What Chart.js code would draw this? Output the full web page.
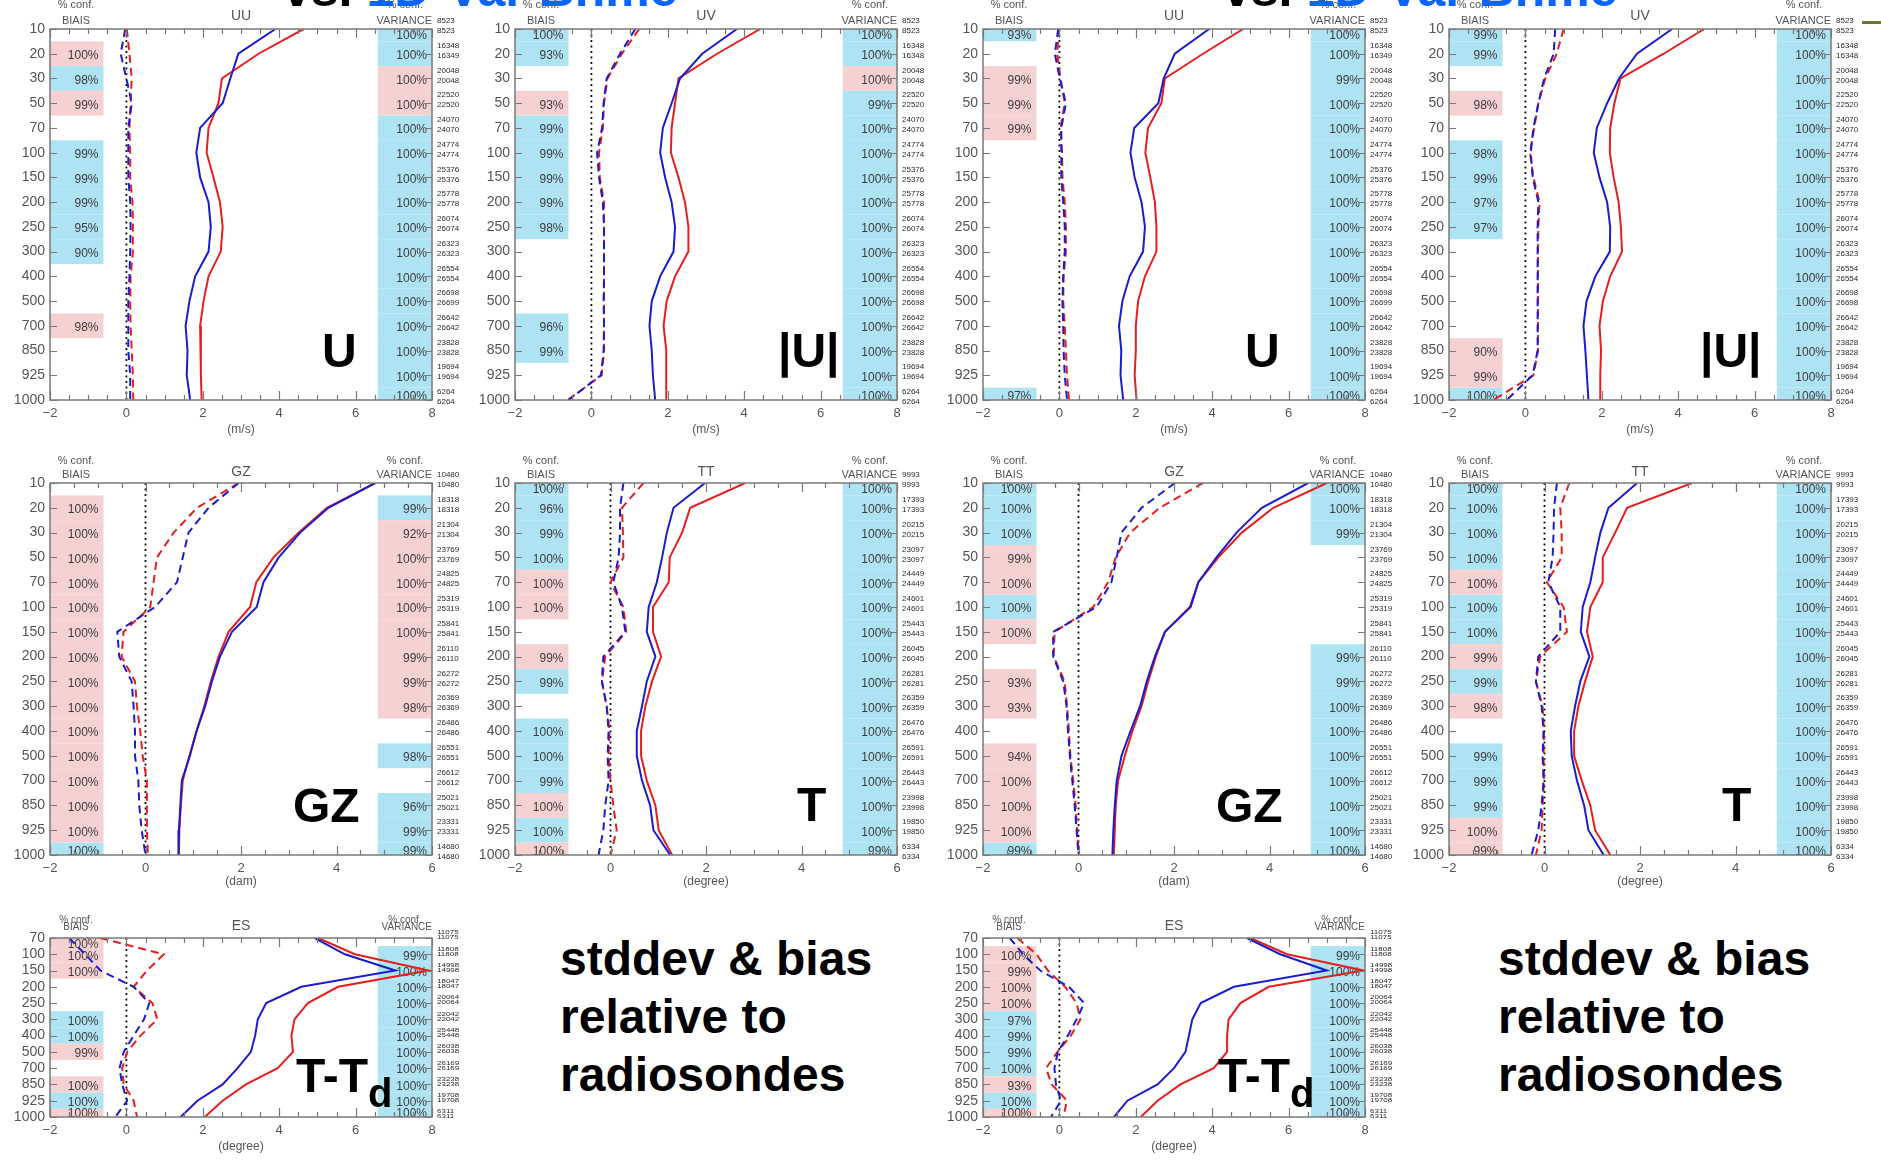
<!DOCTYPE html>
<html>
<head>
<meta charset="utf-8">
<script src="https://cdn.jsdelivr.net/npm/chart.js@4.4.1/dist/chart.umd.min.js"></script>
<style>
html,body{margin:0;padding:0;background:#fff;overflow:hidden;}
#page{position:relative;width:1881px;height:1160px;overflow:hidden;background:#fff;font-family:"Liberation Sans",Arial,sans-serif;}
#page canvas{position:absolute;}
.big{position:absolute;font-weight:bold;font-size:48px;line-height:48px;color:#000;white-space:nowrap;}
.big sub{font-size:40px;vertical-align:baseline;position:relative;top:15px;}
.note{position:absolute;font-weight:bold;font-size:48px;line-height:58px;color:#000;white-space:nowrap;}
.head{position:absolute;font-weight:bold;font-size:50px;line-height:50px;white-space:nowrap;}
.head .b{color:#0a64ff;}
.olive{position:absolute;background:#6b7a2a;}
</style>
</head>
<body>
<div id="page"></div>
<script>
// ---------------- DATA ----------------
const levels16 = ['10','20','30','50','70','100','150','200','250','300','400','500','700','850','925','1000'];
const levels12 = ['70','100','150','200','250','300','400','500','700','850','925','1000'];

// Wind component (UU) - left pair
const uuA_stdBlue  = [3.90, 2.93, 2.72, 2.52, 1.93, 1.83, 1.93, 2.15, 2.21, 2.15, 1.80, 1.65, 1.55, 1.60, 1.58, 1.67];
const uuA_stdRed   = [4.64, 3.46, 2.50, 2.41, 2.15, 2.10, 2.28, 2.45, 2.52, 2.47, 2.15, 2.02, 1.93, 1.95, 1.95, 1.97];
const uuA_biasBlue = [-0.03, -0.15, 0.00, 0.14, 0.05, 0.05, 0.05, 0.10, 0.11, 0.10, 0.08, 0.05, 0.05, 0.05, 0.10, 0.10];
const uuA_biasRed  = [0.01, 0.08, 0.14, 0.11, 0.08, 0.10, 0.10, 0.16, 0.17, 0.17, 0.11, 0.10, 0.11, 0.14, 0.17, 0.18];
const uuA_biasConf = ['', 'p100', 'b98', 'p99', '', 'b99', 'b99', 'b99', 'b95', 'b90', '', '', 'p98', '', '', ''];
const uuA_varConf  = ['b100','b100','p100','p100','b100','b100','b100','b100','b100','b100','b100','b100','b100','b100','b100','b100'];

// Wind speed (UV) - left pair
const uvA_stdBlue  = [3.81, 2.90, 2.32, 2.10, 1.87, 1.80, 1.93, 2.10, 2.19, 2.15, 1.80, 1.58, 1.52, 1.58, 1.61, 1.67];
const uvA_stdRed   = [4.42, 3.29, 2.28, 2.19, 2.10, 2.08, 2.28, 2.45, 2.54, 2.54, 2.19, 1.97, 1.89, 1.96, 1.96, 1.96];
const uvA_biasBlue = [1.15, 0.75, 0.40, 0.32, 0.28, 0.15, 0.20, 0.30, 0.33, 0.33, 0.33, 0.32, 0.33, 0.32, 0.25, -0.60];
const uvA_biasRed  = [1.25, 0.80, 0.42, 0.33, 0.30, 0.20, 0.22, 0.33, 0.33, 0.33, 0.33, 0.33, 0.33, 0.33, 0.27, -0.62];
const uvA_biasConf = ['b100','b93','','p93','b99','b99','b99','b99','b98','','','','b96','b99','',''];
const uvA_varConf  = ['b100','b100','p100','b99','b100','b100','b100','b100','b100','b100','b100','b100','b100','b100','b100','b100'];

// Wind component (UU) - right pair
const uuB_stdBlue  = [3.92, 3.02, 2.73, 2.59, 1.96, 1.86, 1.97, 2.15, 2.24, 2.19, 1.84, 1.65, 1.56, 1.62, 1.60, 1.67];
const uuB_stdRed   = [4.81, 3.76, 2.76, 2.67, 2.32, 2.25, 2.38, 2.50, 2.54, 2.54, 2.24, 2.06, 2.00, 2.00, 1.97, 2.02];
const uuB_biasBlue = [-0.03, -0.12, 0.01, 0.17, 0.05, 0.05, 0.05, 0.10, 0.14, 0.14, 0.10, 0.08, 0.10, 0.11, 0.14, 0.20];
const uuB_biasRed  = [-0.01, -0.06, 0.03, 0.14, 0.03, 0.07, 0.08, 0.14, 0.17, 0.17, 0.11, 0.10, 0.14, 0.17, 0.20, 0.25];
const uuB_biasConf = ['b93','','p99','p99','p99','','','','','','','','','','','b97'];
const uuB_varConf  = ['b100','b100','b99','b100','b100','b100','b100','b100','b100','b100','b100','b100','b100','b100','b100','b100'];

// Wind speed (UV) - right pair
const uvB_stdBlue  = [3.84, 2.92, 2.45, 2.14, 1.87, 1.79, 1.94, 2.14, 2.22, 2.21, 1.83, 1.60, 1.52, 1.57, 1.61, 1.65];
const uvB_stdRed   = [4.68, 3.62, 2.49, 2.33, 2.22, 2.21, 2.31, 2.44, 2.50, 2.53, 2.22, 2.03, 1.94, 1.98, 1.96, 1.96];
const uvB_biasBlue = [0.78, 0.74, 0.49, 0.34, 0.21, 0.14, 0.19, 0.34, 0.32, 0.32, 0.32, 0.32, 0.32, 0.32, 0.19, -0.49];
const uvB_biasRed  = [1.00, 0.82, 0.52, 0.34, 0.23, 0.12, 0.21, 0.37, 0.34, 0.33, 0.33, 0.33, 0.33, 0.33, 0.21, -0.84];
const uvB_biasConf = ['b99','b99','','p98','','b98','b99','b97','b97','','','','','p90','p99','b100'];
const uvB_varConf  = ['b100','b100','b100','b100','b100','b100','b100','b100','b100','b100','b100','b100','b100','b100','b100','b100'];

// Geopotential height (GZ) - left pair
const gzA_stdBlue  = [4.81, 3.83, 3.24, 2.79, 2.47, 2.33, 1.81, 1.56, 1.39, 1.25, 1.07, 0.93, 0.76, 0.73, 0.70, 0.69];
const gzA_stdRed   = [4.81, 3.80, 3.21, 2.68, 2.32, 2.19, 1.74, 1.53, 1.37, 1.23, 1.07, 0.92, 0.78, 0.74, 0.71, 0.70];
const gzA_biasBlue = [1.95, 1.32, 0.90, 0.78, 0.66, 0.20, -0.59, -0.55, -0.29, -0.25, -0.22, -0.22, -0.15, -0.13, -0.08, 0.00];
const gzA_biasRed  = [1.95, 1.08, 0.59, 0.24, 0.17, 0.10, -0.46, -0.50, -0.22, -0.18, -0.11, -0.06, 0.03, 0.03, 0.03, 0.05];
const gzA_biasConf = ['','p100','p100','p100','p100','p100','p100','p100','p100','p100','p100','p100','p100','p100','p100','b100'];
const gzA_varConf  = ['','b99','p92','p100','p100','p100','p100','p99','p99','p98','','b98','','b96','b99','b99'];

// Temperature (TT) - left pair
const ttA_stdBlue  = [1.98, 1.32, 1.18, 1.08, 0.97, 0.80, 0.76, 0.94, 0.76, 0.66, 0.55, 0.55, 0.66, 0.83, 0.90, 1.25];
const ttA_stdRed   = [2.82, 1.67, 1.50, 1.24, 1.22, 0.89, 0.89, 1.06, 0.87, 0.73, 0.64, 0.64, 0.76, 0.94, 1.01, 1.29];
const ttA_biasBlue = [0.27, 0.20, 0.20, 0.17, 0.06, 0.24, 0.31, -0.15, -0.18, -0.08, -0.04, -0.06, -0.04, -0.11, -0.15, -0.25];
const ttA_biasRed  = [0.69, 0.24, 0.26, 0.27, 0.00, 0.27, 0.33, -0.11, -0.18, -0.08, -0.02, -0.04, 0.00, 0.06, 0.13, 0.00];
const ttA_biasConf = ['b100','b96','b99','b100','p100','p100','','p99','b99','','b100','b100','b99','p100','b100','p100'];
const ttA_varConf  = ['b100','b100','b100','b100','b100','b100','b100','b100','b100','b100','b100','b100','b100','b100','b100','b99'];

// Geopotential height (GZ) - right pair
const gzB_stdBlue  = [4.81, 3.84, 3.31, 2.89, 2.51, 2.35, 1.81, 1.60, 1.43, 1.29, 1.09, 0.90, 0.80, 0.76, 0.73, 0.71];
const gzB_stdRed   = [5.20, 4.08, 3.42, 2.93, 2.51, 2.33, 1.81, 1.62, 1.46, 1.32, 1.13, 0.97, 0.83, 0.78, 0.76, 0.74];
const gzB_biasBlue = [2.02, 1.32, 0.90, 0.80, 0.69, 0.38, -0.53, -0.53, -0.32, -0.25, -0.22, -0.18, -0.13, -0.08, -0.04, 0.00];
const gzB_biasRed  = [2.61, 1.70, 1.08, 0.78, 0.62, 0.31, -0.50, -0.52, -0.29, -0.24, -0.20, -0.17, -0.11, -0.06, -0.03, 0.01];
const gzB_biasConf = ['b100','b100','b100','p99','p100','b100','p100','','p93','p93','','p94','p100','p100','p100','b99'];
const gzB_varConf  = ['b100','b100','b99','','','','','b99','b99','b100','b100','b100','b100','b100','b100','b100'];

// Temperature (TT) - right pair
const ttB_stdBlue  = [1.94, 1.34, 1.17, 1.06, 0.96, 0.80, 0.76, 0.94, 0.75, 0.64, 0.55, 0.57, 0.68, 0.83, 0.92, 1.24];
const ttB_stdRed   = [3.09, 1.73, 1.48, 1.22, 1.22, 0.96, 0.89, 1.01, 0.85, 0.71, 0.62, 0.62, 0.78, 0.96, 1.06, 1.38];
const ttB_biasBlue = [0.26, 0.20, 0.19, 0.17, 0.08, 0.33, 0.33, -0.13, -0.18, -0.06, -0.02, -0.04, -0.02, -0.06, -0.13, -0.27];
const ttB_biasRed  = [0.52, 0.33, 0.36, 0.36, 0.05, 0.40, 0.47, -0.09, -0.18, -0.04, -0.01, -0.02, -0.01, -0.04, -0.06, -0.18];
const ttB_biasConf = ['b100','b100','b100','b100','p100','b100','b100','p99','b99','p98','','b99','b99','b99','p100','p99'];
const ttB_varConf  = ['b100','b100','b100','b100','b100','b100','b100','b100','b100','b100','b100','b100','b100','b100','b100','b100'];

// Dew-point depression (ES) - left pair
const esA_stdBlue  = [4.93, 5.72, 7.04, 4.58, 3.66, 3.44, 3.37, 3.26, 2.91, 2.52, 1.86, 1.42];
const esA_stdRed   = [5.02, 5.98, 7.91, 5.54, 4.75, 4.40, 4.32, 4.36, 3.96, 3.13, 2.52, 2.05];
const esA_biasBlue = [-1.50, -1.08, -0.68, 0.19, 0.60, 0.46, 0.19, -0.07, -0.18, -0.11, 0.02, -0.29];
const esA_biasRed  = [-0.68, 0.98, 0.54, 0.19, 0.68, 0.81, 0.37, 0.02, -0.11, -0.07, 0.19, 0.28];
const esA_biasConf = ['p100','p100','p100','','','b100','b100','p99','','p100','b100','p100'];
const esA_varConf  = ['','b99','b100','b100','b100','b100','b100','b100','b100','b100','b100','b100'];

// Dew-point depression (ES) - right pair
const esB_stdBlue  = [4.91, 5.78, 7.00, 4.57, 3.70, 3.48, 3.39, 3.30, 3.00, 2.57, 1.78, 1.43];
const esB_stdRed   = [5.00, 5.96, 7.96, 5.48, 4.74, 4.43, 4.39, 4.39, 4.04, 3.17, 2.57, 2.13];
const esB_biasBlue = [-1.30, -0.95, -0.50, 0.25, 0.65, 0.45, 0.22, -0.04, -0.13, -0.09, 0.04, -0.22];
const esB_biasRed  = [-1.10, -0.60, -0.30, 0.15, 0.45, 0.55, 0.30, -0.05, -0.35, -0.20, 0.20, 0.10];
const esB_biasConf = ['','p100','p99','p100','p100','b97','b99','b99','b100','p93','b100','p100'];
const esB_varConf  = ['','b99','b100','b100','b100','b100','b100','b100','b100','b100','b100','b100'];

// Number of observations per level (two experiments)
const countsWindA = [8523,16348,20048,22520,24070,24774,25376,25778,26074,26323,26554,26698,26642,23828,19694,6264];
const countsWindB = [8523,16349,20048,22520,24070,24774,25376,25778,26074,26323,26554,26699,26642,23828,19694,6264];
const countsGZ    = [10480,18318,21304,23769,24825,25319,25841,26110,26272,26369,26486,26551,26612,25021,23331,14680];
const countsTT    = [9993,17393,20215,23097,24449,24601,25443,26045,26281,26359,26476,26591,26443,23998,19850,6334];
const countsES    = [11075,11808,14998,18047,20064,22042,25448,26038,26169,23238,19708,6311];

// ---------------- STYLE / LAYOUT ----------------
const FONT = '"Liberation Sans", Arial, sans-serif';
const BLUE = '#1c1ccf', RED = '#e61e1e';
const CELL_BLUE = '#aee3f3', CELL_PINK = '#f6d1d1';
const TXT = '#555555', PCT = '#3c3c3c', AXIS = '#7a7a7a';
const BIAS_FRAC = 0.14, VAR_FRAC = 0.142;
const AXIS_W = 382, PAD_L = 50, PAD_R = 50, PAD_T = 35, PAD_B = 45;
const COL_LEFT = [50, 515, 983, 1449];
const ROWS = [
  {top: 29,  h: 371, conf: -24,   label: -8.5, title: -12.5, hdrSize: 11, unitOff: 30,   cTop: -8, cBot: 2, cScale: 1},
  {top: 483, h: 372, conf: -22.5, label: -8.5, title: -11,   hdrSize: 11, unitOff: 26.7, cTop: -8, cBot: 2, cScale: 1},
  {top: 938, h: 179, conf: -18,   label: -11,  title: -12,   hdrSize: 10, unitOff: 30,   cTop: -5, cBot: 0, cScale: 0.62}
];

const panels = [
  {row:0, col:0, title:'UU', unit:'(m/s)', xMin:-2, xMax:8, levels:levels16, stdBlue:uuA_stdBlue, stdRed:uuA_stdRed, biasBlue:uuA_biasBlue, biasRed:uuA_biasRed, biasConf:uuA_biasConf, varConf:uuA_varConf, cA:countsWindA, cB:countsWindB},
  {row:0, col:1, title:'UV', unit:'(m/s)', xMin:-2, xMax:8, levels:levels16, stdBlue:uvA_stdBlue, stdRed:uvA_stdRed, biasBlue:uvA_biasBlue, biasRed:uvA_biasRed, biasConf:uvA_biasConf, varConf:uvA_varConf, cA:countsWindA, cB:countsWindA},
  {row:0, col:2, title:'UU', unit:'(m/s)', xMin:-2, xMax:8, levels:levels16, stdBlue:uuB_stdBlue, stdRed:uuB_stdRed, biasBlue:uuB_biasBlue, biasRed:uuB_biasRed, biasConf:uuB_biasConf, varConf:uuB_varConf, cA:countsWindA, cB:countsWindB},
  {row:0, col:3, title:'UV', unit:'(m/s)', xMin:-2, xMax:8, levels:levels16, stdBlue:uvB_stdBlue, stdRed:uvB_stdRed, biasBlue:uvB_biasBlue, biasRed:uvB_biasRed, biasConf:uvB_biasConf, varConf:uvB_varConf, cA:countsWindA, cB:countsWindA},
  {row:1, col:0, title:'GZ', unit:'(dam)', xMin:-2, xMax:6, levels:levels16, stdBlue:gzA_stdBlue, stdRed:gzA_stdRed, biasBlue:gzA_biasBlue, biasRed:gzA_biasRed, biasConf:gzA_biasConf, varConf:gzA_varConf, cA:countsGZ, cB:countsGZ},
  {row:1, col:1, title:'TT', unit:'(degree)', xMin:-2, xMax:6, levels:levels16, stdBlue:ttA_stdBlue, stdRed:ttA_stdRed, biasBlue:ttA_biasBlue, biasRed:ttA_biasRed, biasConf:ttA_biasConf, varConf:ttA_varConf, cA:countsTT, cB:countsTT},
  {row:1, col:2, title:'GZ', unit:'(dam)', xMin:-2, xMax:6, levels:levels16, stdBlue:gzB_stdBlue, stdRed:gzB_stdRed, biasBlue:gzB_biasBlue, biasRed:gzB_biasRed, biasConf:gzB_biasConf, varConf:gzB_varConf, cA:countsGZ, cB:countsGZ},
  {row:1, col:3, title:'TT', unit:'(degree)', xMin:-2, xMax:6, levels:levels16, stdBlue:ttB_stdBlue, stdRed:ttB_stdRed, biasBlue:ttB_biasBlue, biasRed:ttB_biasRed, biasConf:ttB_biasConf, varConf:ttB_varConf, cA:countsTT, cB:countsTT},
  {row:2, col:0, title:'ES', unit:'(degree)', xMin:-2, xMax:8, levels:levels12, stdBlue:esA_stdBlue, stdRed:esA_stdRed, biasBlue:esA_biasBlue, biasRed:esA_biasRed, biasConf:esA_biasConf, varConf:esA_varConf, cA:countsES, cB:countsES},
  {row:2, col:2, title:'ES', unit:'(degree)', xMin:-2, xMax:8, levels:levels12, stdBlue:esB_stdBlue, stdRed:esB_stdRed, biasBlue:esB_biasBlue, biasRed:esB_biasRed, biasConf:esB_biasConf, varConf:esB_varConf, cA:countsES, cB:countsES}
];

// ---------------- DRAWING ----------------
const page = document.getElementById('page');

function profilePlugin(spec, rs) {
  return {
    id: 'profile',
    beforeDatasetsDraw(chart) {
      const {ctx, chartArea: a, scales: {x, y}} = chart;
      const span = x.max - x.min;
      const bx0 = x.getPixelForValue(x.min), bx1 = x.getPixelForValue(x.min + BIAS_FRAC * span);
      const vx0 = x.getPixelForValue(x.max - VAR_FRAC * span), vx1 = x.getPixelForValue(x.max);
      ctx.save();
      ctx.beginPath(); ctx.rect(a.left, a.top, a.right - a.left, a.bottom - a.top); ctx.clip();
      const cells = (codes, x0, x1) => codes.forEach((c, i) => {
        if (!c) return;
        const y0 = y.getPixelForValue(i - 0.5), y1 = y.getPixelForValue(i + 0.5);
        ctx.fillStyle = c[0] === 'b' ? CELL_BLUE : CELL_PINK;
        ctx.fillRect(x0, y0, x1 - x0, y1 - y0);
      });
      cells(spec.biasConf, bx0, bx1);
      cells(spec.varConf, vx0, vx1);
      ctx.fillStyle = PCT;
      ctx.font = '12px ' + FONT;
      ctx.textAlign = 'right'; ctx.textBaseline = 'middle';
      const texts = (codes, xr) => codes.forEach((c, i) => {
        if (!c) return;
        let py = y.getPixelForValue(i) + 2;
        py = Math.min(Math.max(py, a.top + 7), a.bottom - 3);
        ctx.fillText(c.slice(1) + '%', xr, py);
      });
      texts(spec.biasConf, bx1 - 5);
      texts(spec.varConf, vx1 - 5);
      ctx.restore();
    },
    afterDraw(chart) {
      const {ctx, chartArea: a, scales: {x, y}} = chart;
      ctx.save();
      // inward ticks
      ctx.strokeStyle = AXIS; ctx.lineWidth = 1.2;
      ctx.beginPath();
      for (let k = Math.round(x.min * 2); k <= Math.round(x.max * 2); k++) {
        const v = k / 2, px = Math.round(x.getPixelForValue(v)) + 0.5;
        const len = (k % 4 === 0) ? 9 : 5;
        ctx.moveTo(px, a.bottom); ctx.lineTo(px, a.bottom - len);
        ctx.moveTo(px, a.top); ctx.lineTo(px, a.top + len);
      }
      spec.levels.forEach((lv, i) => {
        const py = Math.round(y.getPixelForValue(i)) + 0.5;
        ctx.moveTo(a.left, py); ctx.lineTo(a.left + 7, py);
        ctx.moveTo(a.right, py); ctx.lineTo(a.right - 7, py);
      });
      ctx.stroke();
      // frame
      ctx.lineWidth = 1.5;
      ctx.strokeRect(a.left, a.top, a.right - a.left, a.bottom - a.top);
      // observation counts
      ctx.fillStyle = '#2a2a2a';
      ctx.font = '8px ' + FONT;
      ctx.textAlign = 'left'; ctx.textBaseline = 'middle';
      spec.levels.forEach((lv, i) => {
        const py = y.getPixelForValue(i);
        [[spec.cA[i], rs.cTop], [spec.cB[i], rs.cBot]].forEach(([n, off]) => {
          ctx.save();
          ctx.translate(a.right + 5, py + off);
          ctx.scale(1, rs.cScale);
          ctx.fillText(String(n), 0, 0);
          ctx.restore();
        });
      });
      // headers
      ctx.fillStyle = TXT;
      ctx.textBaseline = 'middle';
      ctx.font = rs.hdrSize + 'px ' + FONT;
      ctx.textAlign = 'center';
      ctx.fillText('% conf.', a.left + 26, a.top + rs.conf);
      ctx.fillText('BIAIS', a.left + 26, a.top + rs.label);
      ctx.fillText('% conf.', a.right - 27, a.top + rs.conf);
      ctx.textAlign = 'right';
      ctx.fillText('VARIANCE', a.right, a.top + rs.label);
      ctx.textAlign = 'center';
      ctx.font = '14px ' + FONT;
      ctx.fillText(spec.title, (a.left + a.right) / 2, a.top + rs.title);
      ctx.restore();
    }
  };
}

function makePanel(spec) {
  const rs = ROWS[spec.row];
  const n = spec.levels.length;
  const W = AXIS_W + PAD_L + PAD_R, H = rs.h + PAD_T + PAD_B;
  const canvas = document.createElement('canvas');
  canvas.width = W; canvas.height = H;
  canvas.style.width = W + 'px'; canvas.style.height = H + 'px';
  canvas.style.left = (COL_LEFT[spec.col] - PAD_L) + 'px';
  canvas.style.top = (rs.top - PAD_T) + 'px';
  page.appendChild(canvas);
  const pts = arr => arr.map((v, i) => ({x: v, y: i}));
  const line = (label, arr, color, dash) => ({
    label, data: pts(arr), borderColor: color, backgroundColor: color,
    borderWidth: 2, borderDash: dash, pointRadius: 0, fill: false, tension: 0
  });
  new Chart(canvas, {
    type: 'line',
    data: {
      datasets: [
        line('stddev exp. 1', spec.stdBlue, BLUE, []),
        line('stddev exp. 2', spec.stdRed, RED, []),
        line('bias exp. 1', spec.biasBlue, BLUE, [8, 5]),
        line('bias exp. 2', spec.biasRed, RED, [8, 5]),
        {label: 'zero', data: [{x: 0, y: 0}, {x: 0, y: n - 1}], borderColor: '#111', borderWidth: 1.8,
         borderDash: [2, 3.5], pointRadius: 0, fill: false}
      ]
    },
    options: {
      responsive: false, animation: false, devicePixelRatio: 1, events: [],
      layout: {padding: {top: PAD_T, right: PAD_R, left: 0, bottom: 0}},
      plugins: {legend: {display: false}, tooltip: {enabled: false}},
      scales: {
        x: {
          type: 'linear', position: 'bottom', min: spec.xMin, max: spec.xMax,
          grid: {display: false, drawTicks: false}, border: {display: false},
          ticks: {stepSize: 2, padding: 6, color: TXT, font: {size: 13, family: FONT},
                  callback: v => (v < 0 ? '\u2212' + Math.abs(v) : String(v))},
          title: {display: true, text: spec.unit, color: TXT, font: {size: 12, family: FONT},
                  padding: {top: 0, bottom: PAD_B - 7.2 - rs.unitOff}},
          afterFit: s => { s.height = PAD_B; }
        },
        y: {
          type: 'linear', position: 'left', reverse: true, min: 0, max: n - 1,
          grid: {display: false, drawTicks: false}, border: {display: false},
          ticks: {stepSize: 1, autoSkip: false, padding: 5, color: TXT, font: {size: 14, family: FONT},
                  callback: v => spec.levels[v]},
          afterFit: s => { s.width = PAD_L; }
        }
      }
    },
    plugins: [profilePlugin(spec, rs)]
  });
}

panels.forEach(makePanel);

// ---------------- TEXT OVERLAYS ----------------
function addDiv(cls, html, left, top) {
  const d = document.createElement('div');
  d.className = cls; d.innerHTML = html;
  d.style.left = left + 'px'; d.style.top = top + 'px';
  page.appendChild(d);
  return d;
}
const BIG = [
  ['U', 322, 327], ['|U|', 778, 327], ['U', 1245, 327], ['|U|', 1700, 327],
  ['GZ', 293, 782], ['T', 797, 781], ['GZ', 1216, 782], ['T', 1722, 781],
  ['T-T<sub>d</sub>', 296, 1052], ['T-T<sub>d</sub>', 1218, 1052]
];
BIG.forEach(([t, l, tp]) => addDiv('big', t, l, tp));
const NOTE = 'stddev &amp; bias<br>relative to<br>radiosondes';
addDiv('note', NOTE, 560, 930);
addDiv('note', NOTE, 1498, 930);
addDiv('head', 'vs. <span class="b">1D-Var Bhme</span>', 283, -36);
addDiv('head', 'vs. <span class="b">1D-Var Bhme</span>', 1223, -36);
const ol = document.createElement('div'); ol.className = 'olive';
ol.style.cssText = 'left:1862px;top:21px;width:19px;height:3px;';
page.appendChild(ol);
</script>
</body>
</html>
